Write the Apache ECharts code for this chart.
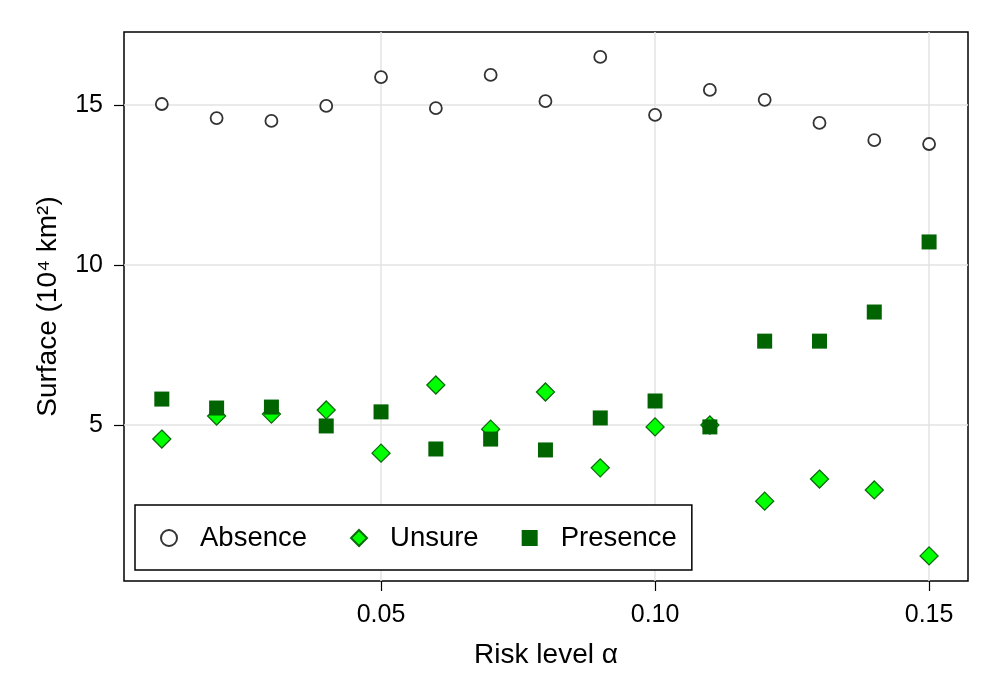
<!DOCTYPE html>
<html>
<head>
<meta charset="utf-8">
<script src="https://cdn.jsdelivr.net/npm/echarts@6/dist/echarts.min.js"></script>
<style>html,body{margin:0;padding:0;background:#fff}#c{width:1000px;height:700px}</style>
</head>
<body>
<div id="c"></div>
<script>
const riskLevels = [0.01,0.02,0.03,0.04,0.05,0.06,0.07,0.08,0.09,0.10,0.11,0.12,0.13,0.14,0.15];
const absence  = [15.03,14.59,14.50,14.97,15.87,14.90,15.94,15.12,16.50,14.69,15.47,15.16,14.44,13.90,13.78];
const unsure   = [4.56,5.28,5.34,5.47,4.12,6.25,4.87,6.03,3.66,4.94,5.00,2.62,3.31,2.97,0.91];
const presence = [5.81,5.53,5.56,4.97,5.41,4.25,4.56,4.22,5.22,5.75,4.94,7.62,7.62,8.53,10.72];
const xTicks = [0.05,0.10,0.15];
const yTicks = [5,10,15];
const seriesNames = ['Absence','Unsure','Presence'];

const FONT = 'Liberation Sans';
const pair = arr => riskLevels.map((x,i)=>[x,arr[i]]);

const chart = echarts.init(document.getElementById('c'), null, {renderer:'canvas'});
chart.setOption({
  animation:false,
  backgroundColor:'#fff',
  textStyle:{fontFamily:FONT},
  grid:{left:124,right:32,top:32,bottom:119,show:true,borderColor:'#000',borderWidth:1.5,backgroundColor:'transparent'},
  legend:{
    data:seriesNames,
    left:135, top:505, orient:'horizontal',
    borderColor:'#000', borderWidth:1.5, backgroundColor:'#fff',
    padding:[19,15,18,25],
    itemWidth:16, itemHeight:16, itemGap:43,
    textStyle:{fontFamily:FONT,fontSize:27.5,color:'#000',padding:[0,0,0,18]}
  },
  xAxis:{
    type:'value', min:0.0031, max:0.1571,
    name:'Risk level α', nameLocation:'middle', nameGap:60,
    nameTextStyle:{fontFamily:FONT,fontSize:28,color:'#000'},
    axisLine:{show:false},
    axisTick:{show:true,inside:false,length:10,lineStyle:{color:'#000',width:1.2},customValues:xTicks},
    axisLabel:{fontFamily:FONT,fontSize:25,color:'#000',margin:22,customValues:xTicks,
      formatter:v=>v.toFixed(2)},
    splitLine:{show:true,lineStyle:{color:'#e3e3e3',width:1.5}}
  },
  yAxis:{
    type:'value', min:0.125, max:17.28,
    name:'Surface (10⁴ km²)', nameLocation:'middle', nameGap:62, nameRotate:90,
    nameTextStyle:{fontFamily:FONT,fontSize:28,color:'#000'},
    axisLine:{show:false},
    axisTick:{show:true,inside:false,length:10,lineStyle:{color:'#000',width:1.2},customValues:yTicks},
    axisLabel:{fontFamily:FONT,fontSize:25,color:'#000',margin:21,customValues:yTicks,
      formatter:v=>String(Math.round(v))},
    splitLine:{show:true,lineStyle:{color:'#e3e3e3',width:1.5}}
  },
  series:[
    {name:'Absence',type:'scatter',symbol:'circle',symbolSize:12,data:pair(absence),
      itemStyle:{color:'#fff',borderColor:'#333',borderWidth:1.8,opacity:1}},
    {name:'Unsure',type:'scatter',symbol:'diamond',symbolSize:18,data:pair(unsure),
      itemStyle:{color:'#00ff00',borderColor:'#0a6a0a',borderWidth:1.3,opacity:1}},
    {name:'Presence',type:'scatter',symbol:'rect',symbolSize:15,data:pair(presence),
      itemStyle:{color:'#006400',borderColor:'#006400',borderWidth:0,opacity:1}}
  ]
});
</script>
</body>
</html>
